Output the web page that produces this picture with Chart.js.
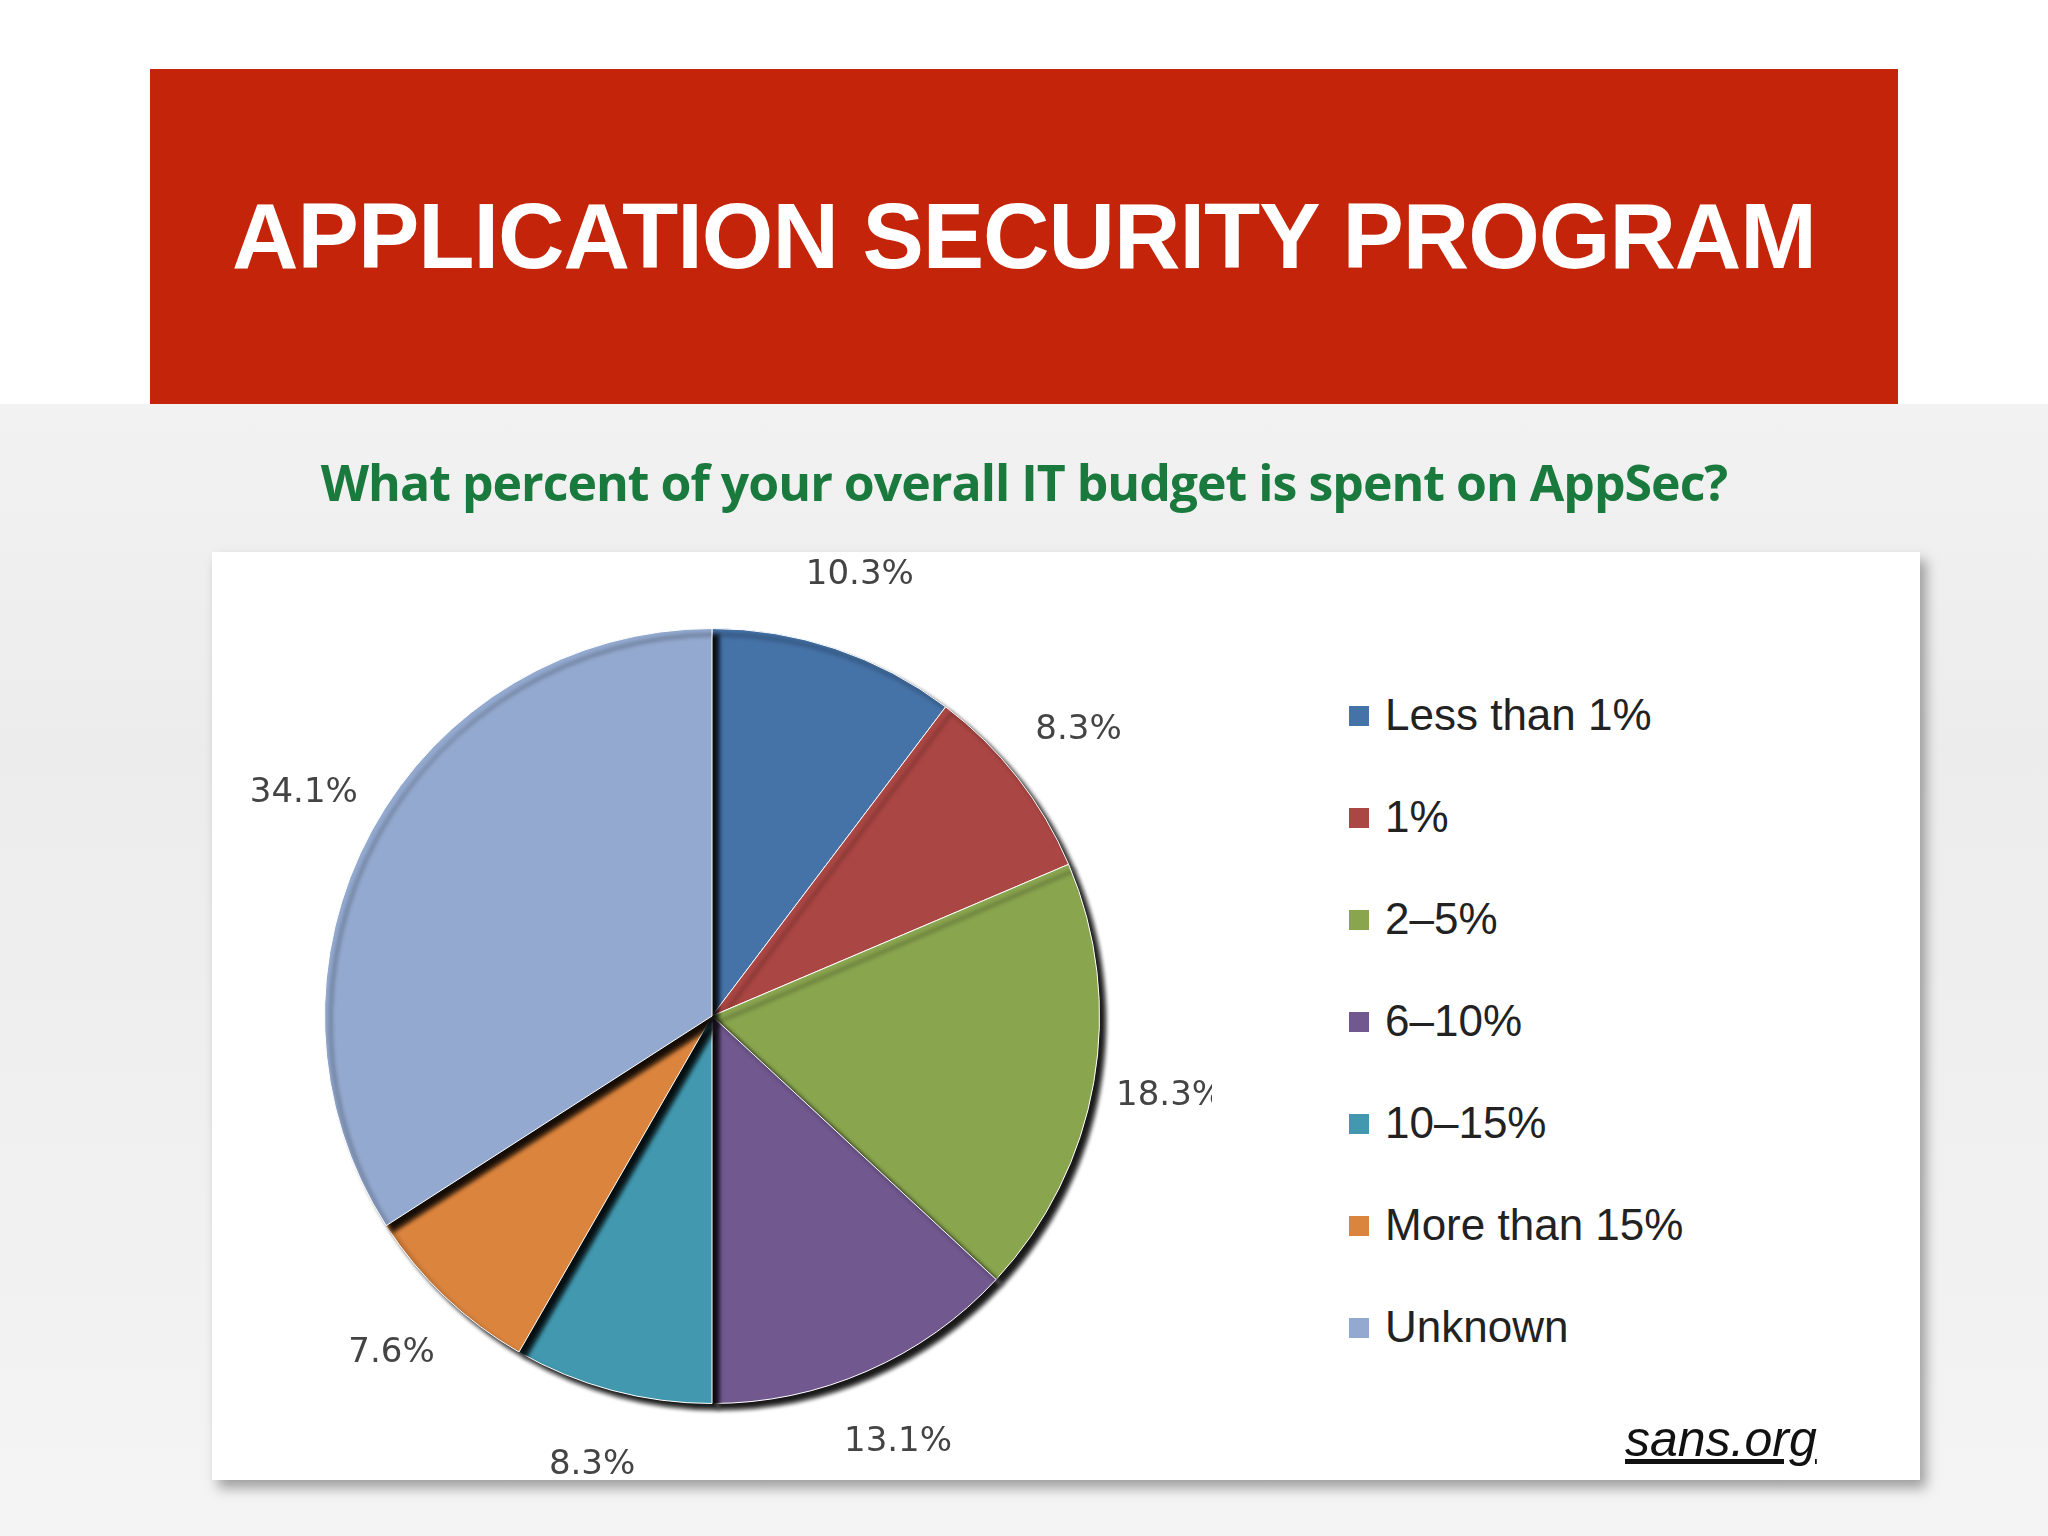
<!DOCTYPE html>
<html><head><meta charset="utf-8">
<script src="https://cdn.jsdelivr.net/npm/chart.js@4"></script>
<style>
body{margin:0;width:2048px;height:1536px;position:relative;overflow:hidden;background:#fff;font-family:"Liberation Sans",sans-serif}
#bg{position:absolute;left:0;top:404px;width:2048px;height:1132px;background:linear-gradient(#f2f2f2,#ececec 30%,#f4f4f4)}
#banner{position:absolute;left:150px;top:69px;width:1748px;height:335px;background:#c4250a;color:#fff;font-family:"Liberation Sans Narrow","Liberation Sans",sans-serif;font-weight:bold;font-size:92px;display:flex;align-items:center;justify-content:center;letter-spacing:-1px}
#q{position:absolute;left:0;width:2048px;top:448px;text-align:center;color:#1a7a3e;font-weight:bold;font-size:50px;font-family:"Open Sans",sans-serif;letter-spacing:-1px}
#card{position:absolute;left:212px;top:552px;width:1708px;height:928px;background:#fff;box-shadow:6px 8px 12px rgba(0,0,0,0.35)}
#c{position:absolute;left:212px;top:552px}
#legend{position:absolute;left:1349px;top:690px;font-family:"Liberation Sans Narrow","Liberation Sans",sans-serif;font-size:44px;color:#222}
.li{height:102px;display:flex;align-items:flex-start}
.sw{width:20px;height:20px;margin:16px 16px 0 0}
#src{position:absolute;left:1625px;top:1410px;font-size:50px;font-style:italic;text-decoration:underline;color:#111}
</style></head><body>
<div id="bg"></div>
<div id="banner">APPLICATION SECURITY PROGRAM</div>
<div id="q">What percent of your overall IT budget is spent on AppSec?</div>
<div id="card"></div>
<canvas id="c" width="1000" height="928"></canvas>
<div id="legend"></div>
<div id="src">sans.org</div>
<script>
const categories=["Less than 1%","1%","2–5%","6–10%","10–15%","More than 15%","Unknown"];
const values=[10.3,8.3,18.3,13.1,8.3,7.6,34.1];
const colors=["#4572a7","#aa4643","#89a54e","#71588f","#4198af","#db843d","#93a9cf"];
const lg=document.getElementById('legend');
categories.forEach((c,i)=>{lg.innerHTML+=`<div class="li"><div class="sw" style="background:${colors[i]}"></div>${c}</div>`;});
const labelPlugin={id:'lbl',afterDatasetsDraw(ch){
 const ctx=ch.ctx;const meta=ch.getDatasetMeta(0);
 ctx.save();ctx.font='34px "DejaVu Sans",sans-serif';ctx.fillStyle='#444';ctx.textAlign='center';ctx.textBaseline='middle';
 meta.data.forEach((a,i)=>{const m=(a.startAngle+a.endAngle)/2;const r=a.outerRadius*1.2;
  ctx.fillText(values[i].toFixed(1)+'%',a.x+Math.cos(m)*r,a.y+Math.sin(m)*r);});
 ctx.restore();}};
const shadowPlugin={id:'sh',beforeDatasetsDraw(ch){const ctx=ch.ctx;ctx.save();ctx.shadowColor='rgba(0,0,0,0.9)';ctx.shadowOffsetX=6;ctx.shadowOffsetY=6;ctx.shadowBlur=4;},afterDatasetsDraw(ch){ch.ctx.restore();}};
new Chart(document.getElementById('c'),{type:'pie',
 data:{labels:categories,datasets:[{data:values,backgroundColor:colors,borderColor:'#ffffff',borderWidth:1}]},
 options:{responsive:false,devicePixelRatio:1,animation:false,layout:{padding:76},
  plugins:{legend:{display:false},tooltip:{enabled:false}}},
 plugins:[shadowPlugin,labelPlugin]});
</script>
</body></html>
